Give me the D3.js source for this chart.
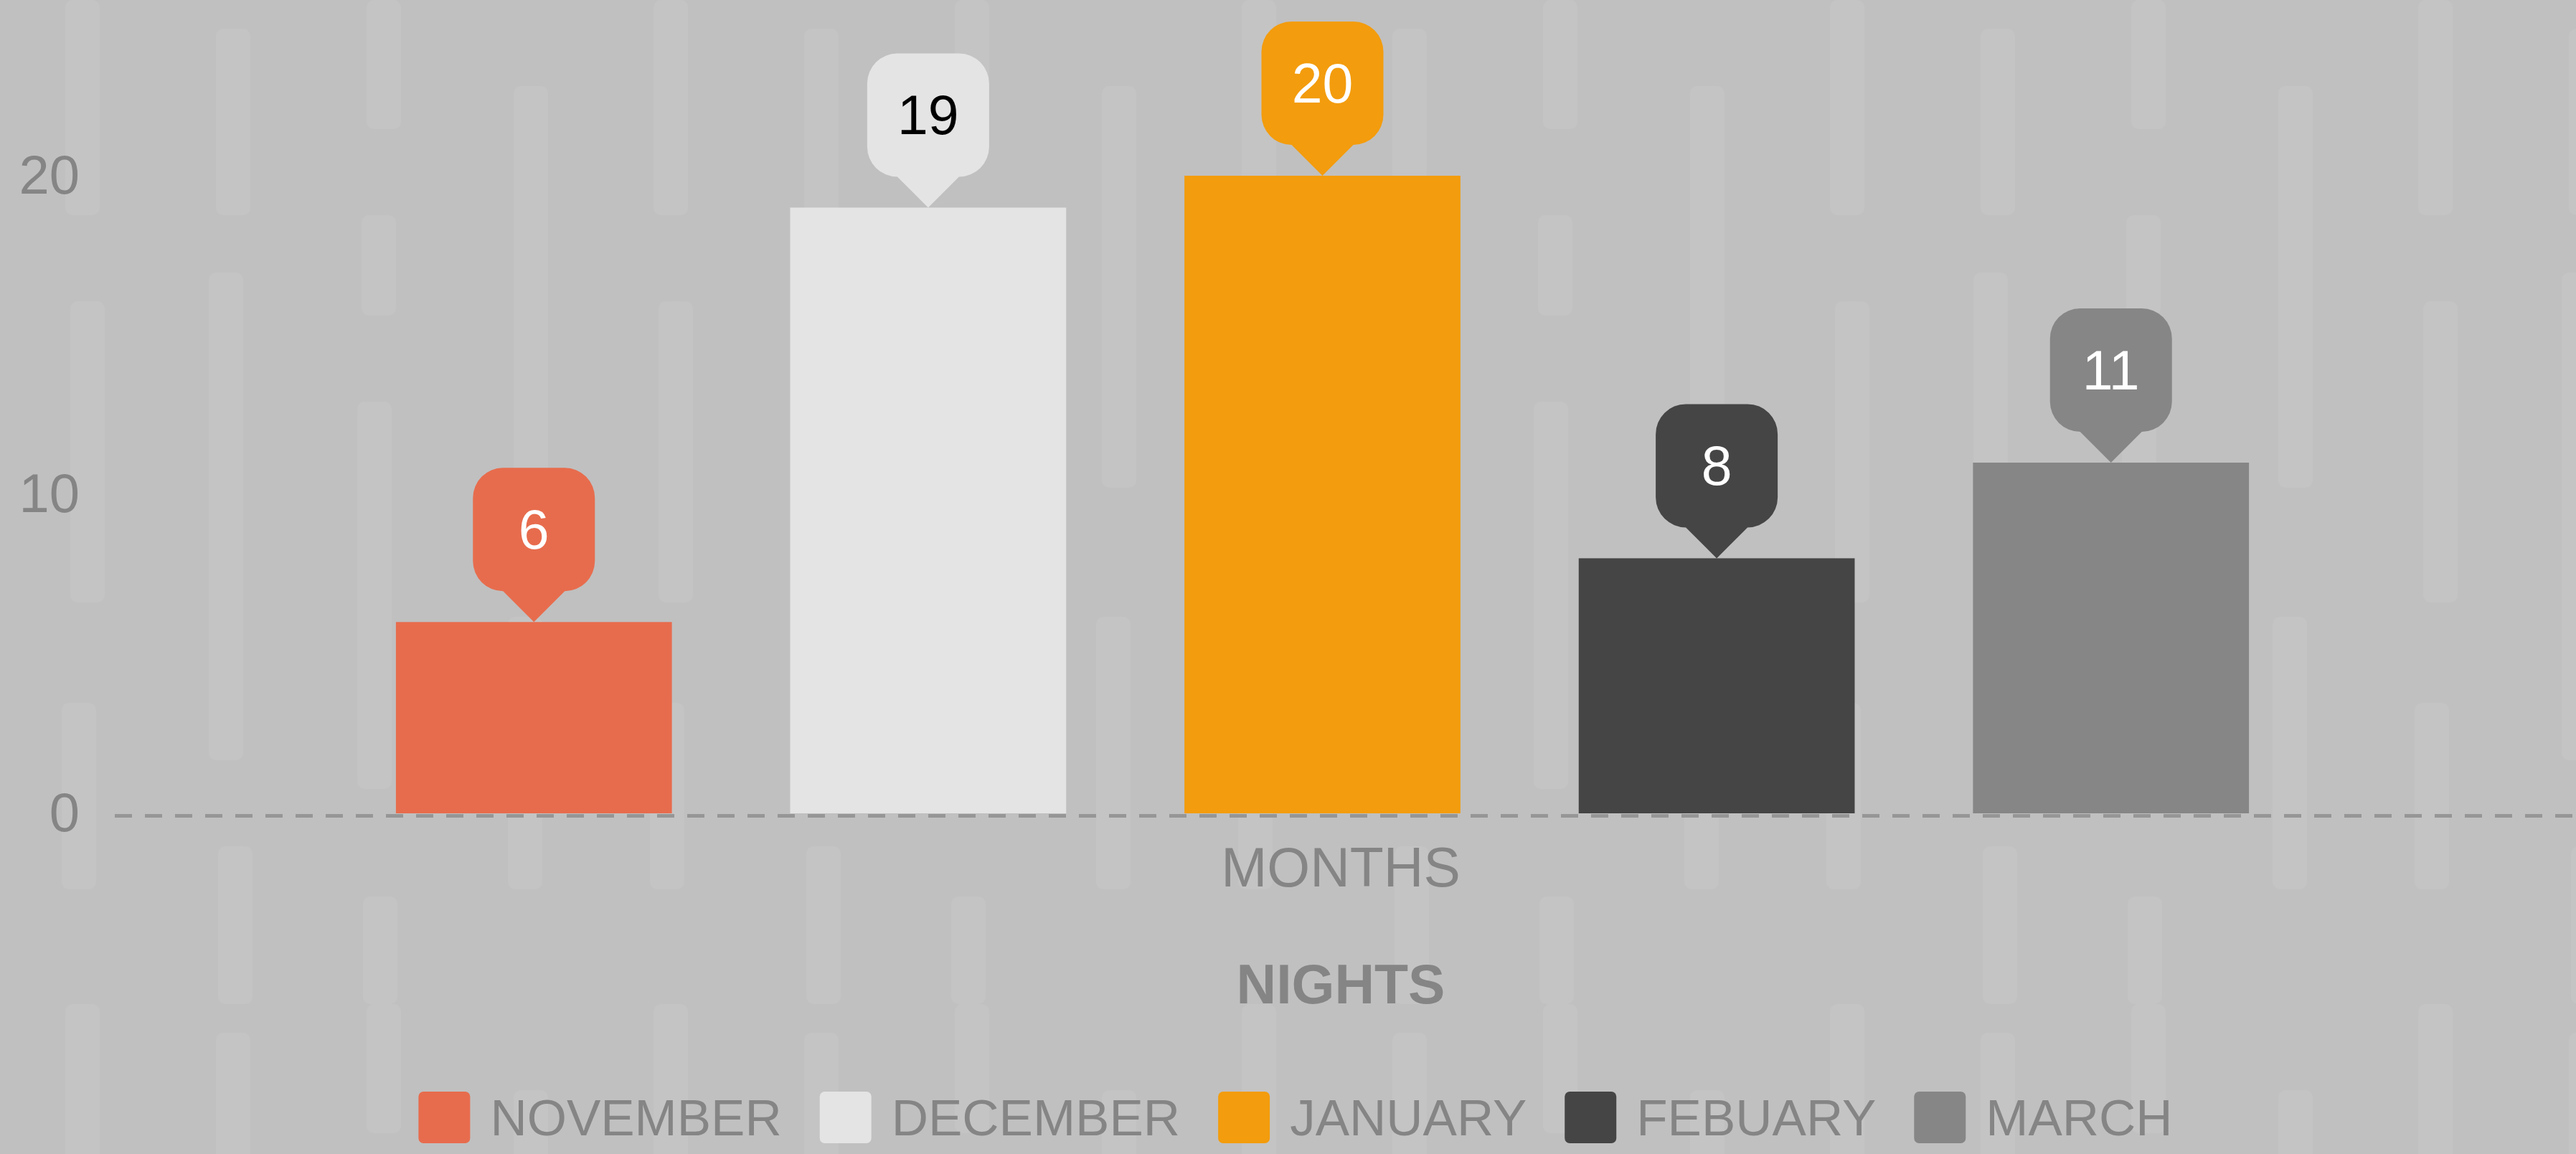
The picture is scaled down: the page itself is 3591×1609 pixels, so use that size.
<!DOCTYPE html>
<html>
<head>
<meta charset="utf-8">
<script src="https://cdn.jsdelivr.net/npm/d3@7"></script>
<style>
  html, body { margin: 0; padding: 0; background: #c0c0c0; }
  svg { display: block; font-family: "Liberation Sans", Arial, sans-serif; }
</style>
</head>
<body>
<script>
const months = ["NOVEMBER", "DECEMBER", "JANUARY", "FEBUARY", "MARCH"];
const nights = [6, 19, 20, 8, 11];
const colors = ["#e76c4d", "#e4e4e4", "#f39c0d", "#454545", "#868686"];
const labelColors = ["#ffffff", "#000000", "#ffffff", "#ffffff", "#ffffff"];
const yTicks = [0, 10, 20];
const xTitle = "MONTHS", chartTitle = "NIGHTS";

const W = 3591, H = 1609;
const textGray = "#858585";

const svg = d3.select("body").append("svg")
    .attr("width", W).attr("height", H);

// brushy background texture (decoration only)
const defs = svg.append("defs");
const pat = defs.append("pattern")
    .attr("id", "brush").attr("patternUnits", "userSpaceOnUse")
    .attr("x", 10).attr("width", 820).attr("height", 1400);
pat.append("rect").attr("width", 820).attr("height", 1400).attr("fill", "#c0c0c0");
const strokes = [[105, 0, 300], [112, 420, 420], [100, 980, 260],
                 [315, 40, 260], [305, 380, 680], [318, 1180, 220],
                 [525, 0, 180], [518, 300, 140], [512, 560, 540], [520, 1250, 150],
                 [730, 120, 560], [722, 860, 380]];
strokes.forEach(s => {
    pat.append("rect").attr("x", s[0] - 24).attr("y", s[1])
        .attr("width", 48).attr("height", s[2]).attr("rx", 10)
        .attr("fill", "#c4c4c4");
});
svg.append("rect").attr("width", W).attr("height", H).attr("fill", "url(#brush)");

const x = d3.scaleBand().domain(months).range([387, 3300]).padding(0.3);
const y = d3.scaleLinear().domain([0, 20]).range([1134, 245]);

// y tick labels
svg.append("g").selectAll("text").data(yTicks).enter().append("text")
    .attr("x", 111).attr("y", d => y(d) - 2).attr("dy", "0.35em")
    .attr("text-anchor", "end").attr("font-size", 76).attr("fill", textGray)
    .text(d => d);

// bars
const data = months.map((m, i) => ({month: m, value: nights[i], color: colors[i], lc: labelColors[i]}));
svg.append("g").selectAll("rect").data(data).enter().append("rect")
    .attr("x", d => x(d.month)).attr("y", d => y(d.value))
    .attr("width", x.bandwidth()).attr("height", d => y(0) - y(d.value))
    .attr("fill", d => d.color);

// zero line
svg.append("line")
    .attr("x1", 160).attr("x2", W).attr("y1", y(0) + 3.5).attr("y2", y(0) + 3.5)
    .attr("stroke", "#969696").attr("stroke-width", 5).attr("stroke-dasharray", "24,18");

// value bubbles
const bw = 170, bh = 172, r = 42, tip = 43;
function bubble(cx, ty) {
    const l = cx - bw / 2, rr = cx + bw / 2, b = ty - tip, t = b - bh;
    const p = d3.path();
    p.moveTo(l + r, t);
    p.lineTo(rr - r, t);
    p.arcTo(rr, t, rr, t + r, r);
    p.lineTo(rr, b - r);
    p.arcTo(rr, b, rr - r, b, r);
    p.lineTo(cx + tip, b);
    p.lineTo(cx, ty);
    p.lineTo(cx - tip, b);
    p.lineTo(l + r, b);
    p.arcTo(l, b, l, b - r, r);
    p.lineTo(l, t + r);
    p.arcTo(l, t, l + r, t, r);
    p.closePath();
    return p.toString();
}
const tags = svg.append("g").selectAll("g").data(data).enter().append("g");
tags.append("path")
    .attr("d", d => bubble(x(d.month) + x.bandwidth() / 2, y(d.value)))
    .attr("fill", d => d.color);
tags.append("text")
    .attr("x", d => x(d.month) + x.bandwidth() / 2)
    .attr("y", d => y(d.value) - tip - bh / 2)
    .attr("dy", "0.35em").attr("text-anchor", "middle")
    .attr("font-size", 77).attr("fill", d => d.lc)
    .text(d => d.value);

// axis titles
svg.append("text").attr("x", 1869).attr("y", 1236).attr("text-anchor", "middle")
    .attr("font-size", 77).attr("fill", textGray).text(xTitle);
svg.append("text").attr("x", 1869).attr("y", 1399).attr("text-anchor", "middle")
    .attr("font-size", 77).attr("font-weight", "bold").attr("fill", textGray).text(chartTitle);

// legend
const legend = svg.append("g");
const items = legend.selectAll("g").data(data).enter().append("g");
items.append("rect").attr("width", 72).attr("height", 72).attr("rx", 7)
    .attr("y", 1522).attr("fill", d => d.color);
items.append("text").attr("x", 100).attr("y", 1583)
    .attr("font-size", 71).attr("fill", textGray).text(d => d.month);
let pos = 0;
const offsets = [];
items.each(function () {
    offsets.push(pos);
    const tw = d3.select(this).select("text").node().getComputedTextLength();
    pos += 100 + tw + 53;
});
const total = pos - 53;
const start = 1806 - total / 2;
items.attr("transform", (d, i) => "translate(" + (start + offsets[i]) + ",0)");
</script>
</body>
</html>
